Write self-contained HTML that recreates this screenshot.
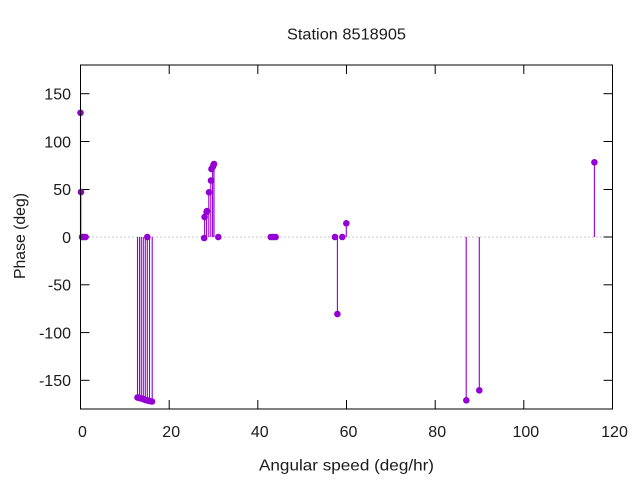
<!DOCTYPE html>
<html><head><meta charset="utf-8"><style>
html,body{margin:0;padding:0;background:#fff;}
svg{display:block;font-family:"Liberation Sans",sans-serif;}
</style></head><body>
<svg width="640" height="480" viewBox="0 0 640 480" xmlns="http://www.w3.org/2000/svg">
<rect width="640" height="480" fill="#fff"/>
<!-- zero line -->
<line x1="80.5" y1="237" x2="612.5" y2="237" stroke="#909090" stroke-width="1" stroke-dasharray="1,3"/>
<!-- ticks -->
<g stroke="#000" stroke-width="1">
<line x1="80.5" y1="93.7" x2="89.5" y2="93.7"/><line x1="612.5" y1="93.7" x2="603.5" y2="93.7"/>
<line x1="80.5" y1="141.5" x2="89.5" y2="141.5"/><line x1="612.5" y1="141.5" x2="603.5" y2="141.5"/>
<line x1="80.5" y1="189.5" x2="89.5" y2="189.5"/><line x1="612.5" y1="189.5" x2="603.5" y2="189.5"/>
<line x1="80.5" y1="237" x2="89.5" y2="237"/><line x1="612.5" y1="237" x2="603.5" y2="237"/>
<line x1="80.5" y1="284.8" x2="89.5" y2="284.8"/><line x1="612.5" y1="284.8" x2="603.5" y2="284.8"/>
<line x1="80.5" y1="332.6" x2="89.5" y2="332.6"/><line x1="612.5" y1="332.6" x2="603.5" y2="332.6"/>
<line x1="80.5" y1="380.3" x2="89.5" y2="380.3"/><line x1="612.5" y1="380.3" x2="603.5" y2="380.3"/>
<line x1="169.2" y1="409" x2="169.2" y2="400"/><line x1="169.2" y1="65" x2="169.2" y2="74"/>
<line x1="257.8" y1="409" x2="257.8" y2="400"/><line x1="257.8" y1="65" x2="257.8" y2="74"/>
<line x1="346.5" y1="409" x2="346.5" y2="400"/><line x1="346.5" y1="65" x2="346.5" y2="74"/>
<line x1="435.2" y1="409" x2="435.2" y2="400"/><line x1="435.2" y1="65" x2="435.2" y2="74"/>
<line x1="523.8" y1="409" x2="523.8" y2="400"/><line x1="523.8" y1="65" x2="523.8" y2="74"/>
</g>
<!-- stems -->
<g stroke="#9400d3" stroke-width="1.1">
<line x1="80.5" y1="237" x2="80.5" y2="112.5"/>
<line x1="80.8" y1="237" x2="80.8" y2="192"/>
<line x1="137.5" y1="237" x2="137.5" y2="397.5"/>
<line x1="139.5" y1="237" x2="139.5" y2="398"/>
<line x1="141.3" y1="237" x2="141.3" y2="398.5"/>
<line x1="143.3" y1="237" x2="143.3" y2="399"/>
<line x1="145.3" y1="237" x2="145.3" y2="400"/>
<line x1="147.3" y1="237" x2="147.3" y2="400.5"/>
<line x1="149.5" y1="237" x2="149.5" y2="401"/>
<line x1="152.2" y1="237" x2="152.2" y2="401.5"/>
<line x1="204.6" y1="237" x2="204.6" y2="217"/>
<line x1="206.6" y1="237" x2="206.6" y2="212"/>
<line x1="208.8" y1="237" x2="208.8" y2="192"/>
<line x1="210.8" y1="237" x2="210.8" y2="180"/>
<line x1="212.6" y1="237" x2="212.6" y2="168"/>
<line x1="214" y1="237" x2="214" y2="164"/>
<line x1="337.4" y1="237" x2="337.4" y2="314"/>
<line x1="346.3" y1="237" x2="346.3" y2="223"/>
<line x1="466.2" y1="237" x2="466.2" y2="400.3"/>
<line x1="479.3" y1="237" x2="479.3" y2="390.3"/>
<line x1="594.4" y1="237" x2="594.4" y2="162"/>
</g>
<!-- points -->
<g fill="#9400d3">
<circle cx="80.5" cy="112.8" r="3.3"/>
<circle cx="81" cy="192" r="3.3"/>
<circle cx="82" cy="237" r="3.3"/>
<circle cx="83.5" cy="237" r="3.3"/>
<circle cx="85.5" cy="237" r="3.3"/>
<circle cx="137.5" cy="397.5" r="3.3"/>
<circle cx="139.5" cy="398" r="3.3"/>
<circle cx="141.3" cy="398.5" r="3.3"/>
<circle cx="143.3" cy="399" r="3.3"/>
<circle cx="145.3" cy="400" r="3.3"/>
<circle cx="147.3" cy="237" r="3.3"/>
<circle cx="147.8" cy="400.5" r="3.3"/>
<circle cx="149.5" cy="401" r="3.3"/>
<circle cx="152" cy="401.5" r="3.3"/>
<circle cx="204.2" cy="238" r="3.3"/>
<circle cx="204.6" cy="217" r="3.3"/>
<circle cx="206.6" cy="212" r="3.3"/>
<circle cx="207" cy="211" r="3.3"/>
<circle cx="209" cy="192.3" r="3.3"/>
<circle cx="211" cy="180.5" r="3.3"/>
<circle cx="211.5" cy="169" r="3.3"/>
<circle cx="213" cy="166.5" r="3.3"/>
<circle cx="213.5" cy="165" r="3.3"/>
<circle cx="214" cy="164" r="3.3"/>
<circle cx="218.3" cy="237" r="3.3"/>
<circle cx="270.8" cy="237" r="3.3"/>
<circle cx="273.2" cy="237" r="3.3"/>
<circle cx="275.6" cy="237" r="3.3"/>
<circle cx="335" cy="237" r="3.3"/>
<circle cx="337.4" cy="314" r="3.3"/>
<circle cx="342.3" cy="237" r="3.3"/>
<circle cx="346.3" cy="223.3" r="3.3"/>
<circle cx="466.3" cy="400.3" r="3.3"/>
<circle cx="479.3" cy="390.3" r="3.3"/>
<circle cx="594.4" cy="162.3" r="3.3"/>
</g>
<!-- border -->
<rect x="80.5" y="65" width="532" height="344" fill="none" stroke="#000" stroke-width="1"/>
<!-- y tick labels -->
<g font-size="16" fill="#1a1a1a" text-anchor="end">
<text x="71" y="99.5">150</text>
<text x="71" y="147.3">100</text>
<text x="71" y="195.2">50</text>
<text x="71" y="242.8">0</text>
<text x="71" y="290.6">-50</text>
<text x="71" y="338.4">-100</text>
<text x="71" y="386.1">-150</text>
</g>
<!-- x tick labels -->
<g font-size="16" fill="#1a1a1a" text-anchor="middle">
<text x="82.5" y="437">0</text>
<text x="171.2" y="437">20</text>
<text x="259.8" y="437">40</text>
<text x="348.5" y="437">60</text>
<text x="437.2" y="437">80</text>
<text x="525.8" y="437">100</text>
<text x="614.5" y="437">120</text>
</g>
<text x="346.5" y="39.3" font-size="16" fill="#1a1a1a" text-anchor="middle" textLength="119" lengthAdjust="spacingAndGlyphs">Station 8518905</text>
<text x="346.5" y="470.5" font-size="16" fill="#1a1a1a" text-anchor="middle" textLength="175" lengthAdjust="spacingAndGlyphs">Angular speed (deg/hr)</text>
<text transform="translate(25,236) rotate(-90)" font-size="16" fill="#1a1a1a" text-anchor="middle" textLength="86" lengthAdjust="spacingAndGlyphs">Phase (deg)</text>
</svg>
</body></html>
